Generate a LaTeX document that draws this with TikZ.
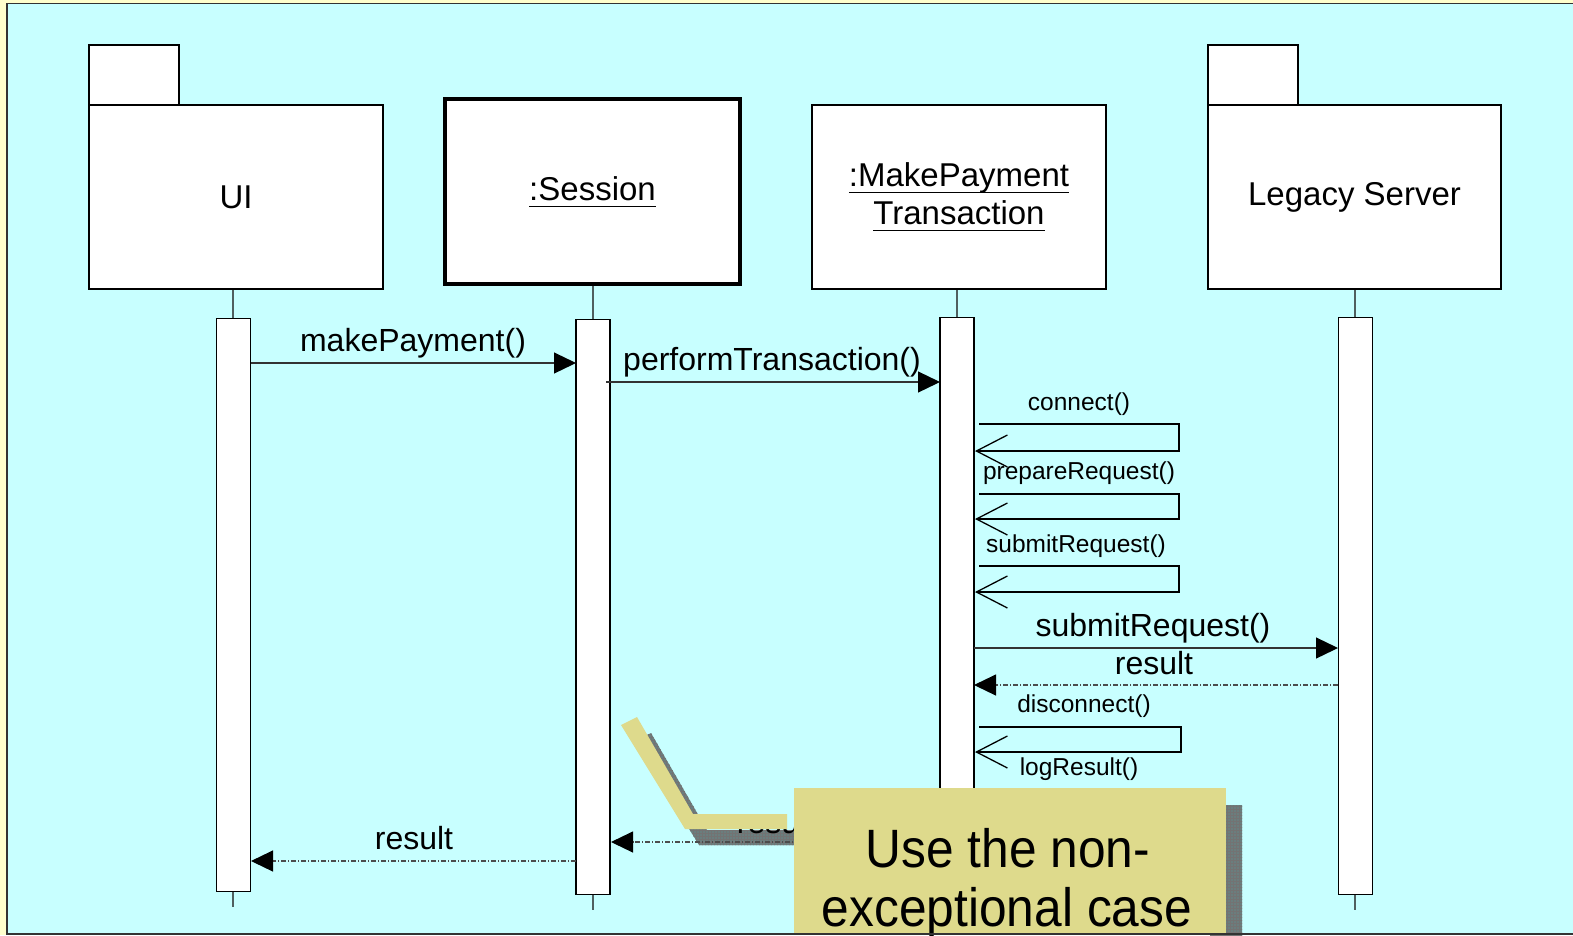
\documentclass[tikz,border=0pt]{standalone}
\usepackage{fontspec}
\setmainfont{Liberation Sans}
\usetikzlibrary{arrows.meta,patterns}

\definecolor{pagebg}{HTML}{FFFFCC}
\definecolor{panelbg}{HTML}{C8FFFF}
\definecolor{notebg}{HTML}{DEDA8C}
\definecolor{shadowbg}{HTML}{6A7E7E}
\definecolor{lifegray}{HTML}{4F5F5F}

% underlined object name with a fixed rule below the baseline
\newcommand\ulin[1]{\setbox0\hbox{#1}\rlap{\rule[-0.2em]{\wd0}{1.2pt}}\box0}

\tikzset{
  headbox/.style={draw=black, fill=white, line width=1.3pt, inner sep=0pt,
    font=\fontsize{33}{39}\selectfont, align=center},
  tabbox/.style={draw=black, fill=white, line width=1.3pt},
  actbar/.style={draw=black, fill=white, line width=1.3pt, inner sep=0pt,
    minimum width=34},
  lifeline/.style={draw=lifegray, line width=1.5pt},
  callmsg/.style={draw=black!80, line width=1.2pt,
    -{Triangle[length=22pt,width=21pt,color=black,fill=black]}},
  retmsg/.style={draw=black!70, line width=1.1pt,
    dash pattern=on 5pt off 2pt on 1pt off 2pt,
    -{Triangle[length=22pt,width=21pt,color=black,fill=black]}},
  selfmsg/.style={draw=black, line width=1.3pt, -{Straight Barb[length=31pt,width=32pt]}},
  biglbl/.style={font=\fontsize{32}{38}\selectfont, inner sep=0pt},
  smalllbl/.style={font=\fontsize{24.5}{29}\selectfont, inner sep=0pt},
  notelbl/.style={font=\fontsize{54}{60}\selectfont, inner sep=0pt, anchor=base},
}

\begin{document}
\begin{tikzpicture}[x=1pt,y=-1pt]
\useasboundingbox (0,0) rectangle (1573,935);

% page and panel
\fill[pagebg] (0,0) rectangle (1573,935);
\filldraw[fill=panelbg, draw=black!80, line width=1.5pt] (7,3.5) rectangle (1590,934);

% lifelines
\coordinate (uiTop) at (233,289);
\coordinate (uiEnd) at (233,907);
\coordinate (seTop) at (593,284);
\coordinate (seEnd) at (593,910);
\coordinate (mpTop) at (957,289);
\coordinate (mpEnd) at (957,910);
\coordinate (lsTop) at (1355,289);
\coordinate (lsEnd) at (1355,910);
\draw[lifeline] (uiTop) -- (uiEnd);
\draw[lifeline] (seTop) -- (seEnd);
\draw[lifeline] (mpTop) -- (mpEnd);
\draw[lifeline] (lsTop) -- (lsEnd);

% heads
\draw[tabbox] (89,45) rectangle (179,105);
\node[headbox, minimum width=294, minimum height=184] (ui) at (236,197) {UI};
\node[headbox, line width=4pt, minimum width=295, minimum height=185] (session)
  at (592.5,191.5) {\ulin{:Session}};
\node[headbox, minimum width=294, minimum height=184] (mpt) at (959,197)
  {\ulin{:MakePayment}\\[-1pt]\ulin{Transaction}};
\draw[tabbox] (1208,45) rectangle (1298,105);
\node[headbox, minimum width=293, minimum height=184] (legacy) at (1354.5,197) {Legacy Server};

% activation bars
\node[actbar, minimum height=573, anchor=north] (uibar) at (233.5,318) {};
\node[actbar, minimum height=575, anchor=north] (sebar) at (593,319) {};
\node[actbar, minimum height=590, anchor=north] (mpbar) at (957,317) {};
\node[actbar, minimum height=577, anchor=north] (lsbar) at (1355.5,317) {};

% makePayment / performTransaction
\coordinate (m1s) at (251,363);
\coordinate (m1e) at (576,363);
\draw[callmsg] (m1s) -- (m1e);
\node[biglbl] (m1l) at (413,343) {makePayment()};
\coordinate (m2s) at (606,382);
\coordinate (m2e) at (940,382);
\draw[callmsg] (m2s) -- (m2e);
\node[biglbl] (m2l) at (772,362) {performTransaction()};

% self calls on the transaction
\coordinate (c1s) at (979,424);
\coordinate (c1e) at (975,451);
\draw[selfmsg] (c1s) -- ++(200,0) |- (c1e);
\node[smalllbl] (c1l) at (1079,404) {connect()};
\coordinate (c2s) at (979,494);
\coordinate (c2e) at (975,519);
\draw[selfmsg] (c2s) -- ++(200,0) |- (c2e);
\node[smalllbl] (c2l) at (1079,473) {prepareRequest()};
\coordinate (c3s) at (979,566);
\coordinate (c3e) at (975,592);
\draw[selfmsg] (c3s) -- ++(200,0) |- (c3e);
\node[smalllbl] (c3l) at (1076,546) {submitRequest()};

% call to the legacy server and its reply
\coordinate (m3s) at (974,648);
\coordinate (m3e) at (1338,648);
\draw[callmsg] (m3s) -- (m3e);
\node[biglbl] (m3l) at (1153,628) {submitRequest()};
\coordinate (r1s) at (1338,685);
\coordinate (r1e) at (974,685);
\draw[retmsg] (r1s) -- (r1e);
\node[biglbl] (r1l) at (1154,663) {result};

\coordinate (c4s) at (979,727);
\coordinate (c4e) at (975,752);
\draw[selfmsg] (c4s) -- ++(202,0) |- (c4e);
\node[smalllbl] (c4l) at (1084,706) {disconnect()};
\node[smalllbl] (c5l) at (1079,769) {logResult()};

% reply to the UI
\coordinate (r3s) at (576,861);
\coordinate (r3e) at (251,861);
\draw[retmsg] (r3s) -- (r3e);
\node[biglbl] (r3l) at (414,838) {result};

% callout shadows
\fill[shadowbg] ([shift={(14,16)}]621,725) -- ([shift={(14,16)}]637,717)
  -- ([shift={(14,16)}]693,814) -- ([shift={(14,16)}]787,814)
  -- ([shift={(14,16)}]787,829) -- ([shift={(14,16)}]685,829) -- cycle;
\fill[pattern=grid, pattern color=black!55] ([shift={(14,16)}]621,725) -- ([shift={(14,16)}]637,717)
  -- ([shift={(14,16)}]693,814) -- ([shift={(14,16)}]787,814)
  -- ([shift={(14,16)}]787,829) -- ([shift={(14,16)}]685,829) -- cycle;
\fill[shadowbg] (1210,805) rectangle (1242,935);
\fill[pattern=grid, pattern color=black!55] (1210,805) rectangle (1242,935);

% reply to the session, mostly covered by the callout
\coordinate (r2s) at (940,842);
\coordinate (r2e) at (611,842);
\draw[retmsg] (r2s) -- (r2e);
\node[biglbl] (r2l) at (776,822) {result};

% callout
\fill[notebg] (621,725) -- (637,717) -- (693,814) -- (787,814) -- (787,829) -- (685,829) -- cycle;
\node[fill=notebg, minimum width=432, minimum height=147, inner sep=0pt, anchor=north west]
  (note) at (794,788) {};
\node[notelbl] (note1) at (1008,867) {\scalebox{0.92}[1]{Use the non-}};
\node[notelbl] (note2) at (1007,926) {\scalebox{0.92}[1]{exceptional case}};

% panel edge along the bottom
\draw[black!80, line width=1.5pt] (7,934) -- (1573,934);
\end{tikzpicture}
\end{document}
